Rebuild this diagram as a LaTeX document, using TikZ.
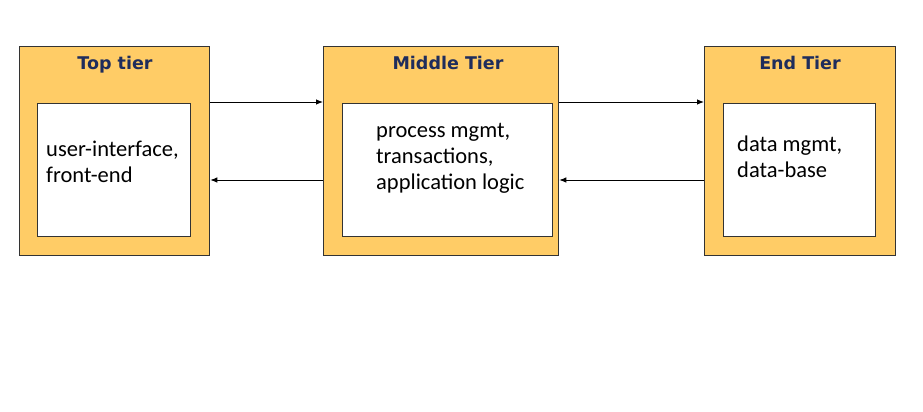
\documentclass[tikz,border=0pt]{standalone}
\usepackage{fontspec}
\setmainfont{Carlito}
\newfontfamily\tierfont{DejaVu Sans}
\usetikzlibrary{arrows.meta}
\definecolor{tierfill}{HTML}{FFCC66}
\definecolor{tiertitle}{HTML}{1F2D5C}
\tikzstyle{tier}=[draw=black!80,line width=1.3pt,fill=tierfill,anchor=north west,inner sep=0pt,minimum height=209pt]
\tikzstyle{inbox}=[draw=black!80,line width=1.3pt,fill=white,anchor=north west,inner sep=0pt,minimum height=133pt]
\tikzstyle{title}=[font=\tierfont\bfseries\fontsize{17.5}{20}\selectfont,text=tiertitle,anchor=base]
\tikzstyle{body}=[anchor=base west,align=left,inner sep=0pt,font=\fontsize{22.5}{26}\selectfont]
\tikzstyle{link}=[line width=0.9pt,-{Latex[length=7pt,width=5.5pt]}]

\begin{document}
\begin{tikzpicture}[x=1pt,y=-1pt]
	\useasboundingbox[fill=white] (0,0) rectangle (923,412);
	%tiers
	\node[tier,minimum width=190pt] (top) at (19,46) {};
	\node[tier,minimum width=235pt] (middle) at (323,46) {};
	\node[tier,minimum width=191pt] (endt) at (704,46) {};
	%titles
	\node[title] (top title) at (115,70) {Top tier};
	\node[title] (middle title) at (448,70) {Middle Tier};
	\node[title] (endt title) at (800,70) {End Tier};
	%inner boxes
	\node[inbox,minimum width=153pt] (top in) at (37,103) {};
	\node[inbox,minimum width=210pt] (middle in) at (342,103) {};
	\node[inbox,minimum width=152pt] (endt in) at (723,103) {};
	%texts (base = last line)
	\node[body] (top text) at (46,182) {user-interface,\\front-end};
	\node[body] (middle text) at (376,189) {process mgmt,\\transactions,\\application logic};
	\node[body] (endt text) at (737,177) {data mgmt,\\data-base};
	%arrows
	\draw[link] ([yshift=-56pt]top.north east) -- ([yshift=-56pt]middle.north west);
	\draw[link] ([yshift=-134pt]middle.north west) -- ([yshift=-134pt]top.north east);
	\draw[link] ([yshift=-56pt]middle.north east) -- ([yshift=-56pt]endt.north west);
	\draw[link] ([yshift=-134pt]endt.north west) -- ([yshift=-134pt]middle.north east);
\end{tikzpicture}
\end{document}
